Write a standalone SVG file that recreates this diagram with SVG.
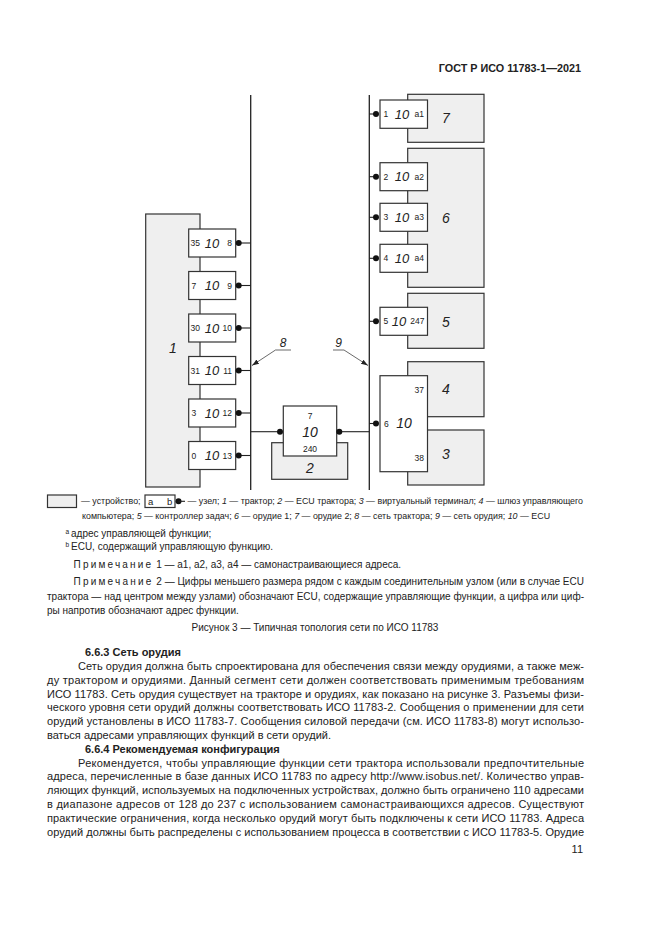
<svg xmlns="http://www.w3.org/2000/svg" width="661" height="935" viewBox="0 0 661 935">
<defs>
<style>
text{font-family:"Liberation Sans",Arial,sans-serif;fill:#222}
.dev{fill:#efefef;stroke:#333;stroke-width:1.2}
.ecu{fill:#fff;stroke:#333;stroke-width:1.2}
.bus{stroke:#222;stroke-width:1.3;fill:none}
.ln{stroke:#222;stroke-width:1.1;fill:none}
.dot{fill:#111}
.n{font-size:8.5px}
.big{font-size:13px;font-style:italic}
.lab{font-size:14px;font-style:italic}
.leg{font-size:8.9px}
.note{font-size:10px}
.body{font-size:11px}
.hd{font-size:11px;font-weight:bold}
.it{font-style:italic}
.sp{letter-spacing:2.2px}
</style>
<marker id="arr" viewBox="0 0 10 10" refX="10" refY="5" markerWidth="7" markerHeight="7" orient="auto" markerUnits="userSpaceOnUse">
<path d="M0,1.5 L10,5 L0,8.5 z" fill="#222"/>
</marker>
</defs>
<rect width="661" height="935" fill="#fff"/>

<text x="581" y="72" class="hd" text-anchor="end" style="font-size:10.8px">ГОСТ Р ИСО 11783-1—2021</text>

<!-- devices -->
<g id="dev1"><rect class="dev" x="145.7" y="214" width="54.3" height="273"/><text x="173" y="353" class="lab" text-anchor="middle">1</text></g>
<g id="dev7"><rect class="dev" x="407.7" y="94.3" width="76.3" height="48"/><text x="446" y="123" class="lab" text-anchor="middle">7</text></g>
<g id="dev6"><rect class="dev" x="407.7" y="148.3" width="76.3" height="139"/><text x="446" y="223" class="lab" text-anchor="middle">6</text></g>
<g id="dev5"><rect class="dev" x="407.7" y="293.3" width="76.3" height="55"/><text x="446" y="327" class="lab" text-anchor="middle">5</text></g>
<g id="dev4"><rect class="dev" x="407.7" y="361.7" width="76.3" height="55"/><text x="446" y="394" class="lab" text-anchor="middle">4</text></g>
<g id="dev3"><rect class="dev" x="407.7" y="430" width="76.3" height="55"/><text x="446" y="459" class="lab" text-anchor="middle">3</text></g>
<g id="dev2"><rect class="dev" x="271.7" y="442.7" width="76" height="36.6"/><text x="310" y="473" class="lab" text-anchor="middle">2</text></g>

<!-- connectors -->
<g id="connectors">
<line class="bus" x1="250.7" y1="95" x2="250.7" y2="490"/>
<line class="bus" x1="369.3" y1="95" x2="369.3" y2="490"/>
<line class="ln" x1="238.7" y1="243" x2="250.7" y2="243"/>
<line class="ln" x1="238.7" y1="285.5" x2="250.7" y2="285.5"/>
<line class="ln" x1="238.7" y1="328" x2="250.7" y2="328"/>
<line class="ln" x1="238.7" y1="370.5" x2="250.7" y2="370.5"/>
<line class="ln" x1="238.7" y1="413" x2="250.7" y2="413"/>
<line class="ln" x1="238.7" y1="455.5" x2="250.7" y2="455.5"/>
<line class="ln" x1="250.7" y1="431.7" x2="280" y2="431.7"/>
<line class="ln" x1="339.3" y1="431.7" x2="369.3" y2="431.7"/>
<line class="ln" x1="369.3" y1="114" x2="376" y2="114"/>
<line class="ln" x1="369.3" y1="176.7" x2="376" y2="176.7"/>
<line class="ln" x1="369.3" y1="217.3" x2="376" y2="217.3"/>
<line class="ln" x1="369.3" y1="258.3" x2="376" y2="258.3"/>
<line class="ln" x1="369.3" y1="321.3" x2="376" y2="321.3"/>
<line class="ln" x1="369.3" y1="423.5" x2="376" y2="423.5"/>
<g id="label8"><text x="283" y="347" class="big" text-anchor="middle" style="font-size:12px">8</text><line x1="275.5" y1="350" x2="291" y2="350" stroke="#444" stroke-width="0.8"/><line x1="275.5" y1="350" x2="252" y2="365.5" stroke="#444" stroke-width="0.8" marker-end="url(#arr)"/></g>
<g id="label9"><text x="338.5" y="347" class="big" text-anchor="middle" style="font-size:12px">9</text><line x1="333" y1="350" x2="344" y2="350" stroke="#444" stroke-width="0.8"/><line x1="344" y1="350" x2="368" y2="365.5" stroke="#444" stroke-width="0.8" marker-end="url(#arr)"/></g>
</g>

<!-- left ECUs -->
<g id="ecu-35"><rect class="ecu" x="188.7" y="229" width="47" height="28"/><text x="190.5" y="246" class="n">35</text><text x="212" y="247.5" class="big" text-anchor="middle">10</text><text x="232" y="246" class="n" text-anchor="end">8</text><circle class="dot" cx="238.7" cy="243" r="3"/></g>
<g id="ecu-7"><rect class="ecu" x="188.7" y="271.5" width="47" height="28"/><text x="191.5" y="288.5" class="n">7</text><text x="212" y="290" class="big" text-anchor="middle">10</text><text x="232" y="288.5" class="n" text-anchor="end">9</text><circle class="dot" cx="238.7" cy="285.5" r="3"/></g>
<g id="ecu-30"><rect class="ecu" x="188.7" y="314" width="47" height="28"/><text x="190.5" y="331" class="n">30</text><text x="212" y="332.5" class="big" text-anchor="middle">10</text><text x="232" y="331" class="n" text-anchor="end">10</text><circle class="dot" cx="238.7" cy="328" r="3"/></g>
<g id="ecu-31"><rect class="ecu" x="188.7" y="356.5" width="47" height="28"/><text x="190.5" y="373.5" class="n">31</text><text x="212" y="375" class="big" text-anchor="middle">10</text><text x="232" y="373.5" class="n" text-anchor="end">11</text><circle class="dot" cx="238.7" cy="370.5" r="3"/></g>
<g id="ecu-3"><rect class="ecu" x="188.7" y="399" width="47" height="28"/><text x="191.5" y="416" class="n">3</text><text x="212" y="417.5" class="big" text-anchor="middle">10</text><text x="232" y="416" class="n" text-anchor="end">12</text><circle class="dot" cx="238.7" cy="413" r="3"/></g>
<g id="ecu-0"><rect class="ecu" x="188.7" y="441.5" width="47" height="28"/><text x="191.5" y="458.5" class="n">0</text><text x="212" y="460" class="big" text-anchor="middle">10</text><text x="232" y="458.5" class="n" text-anchor="end">13</text><circle class="dot" cx="238.7" cy="455.5" r="3"/></g>

<!-- tractor ECU -->
<g id="ecu-tractor"><rect class="ecu" x="283.3" y="406" width="53.4" height="50"/><text x="310" y="418.5" class="n" text-anchor="middle">7</text><text x="310" y="436.5" class="big" text-anchor="middle" style="font-size:14px">10</text><text x="310" y="452" class="n" text-anchor="middle">240</text><circle class="dot" cx="280" cy="431.7" r="3"/><circle class="dot" cx="339.3" cy="431.7" r="3"/></g>

<!-- right ECUs -->
<g id="ecu-a1"><rect class="ecu" x="380" y="100" width="47.5" height="28.3"/><text x="383.5" y="117" class="n">1</text><text x="402" y="118.5" class="big" text-anchor="middle">10</text><text x="424" y="117" class="n" text-anchor="end">a1</text><circle class="dot" cx="376" cy="114" r="3"/></g>
<g id="ecu-a2"><rect class="ecu" x="380" y="162.7" width="47.5" height="28"/><text x="383.5" y="179.7" class="n">2</text><text x="402" y="181.2" class="big" text-anchor="middle">10</text><text x="424" y="179.7" class="n" text-anchor="end">a2</text><circle class="dot" cx="376" cy="176.7" r="3"/></g>
<g id="ecu-a3"><rect class="ecu" x="380" y="203.3" width="47.5" height="28"/><text x="383.5" y="220.3" class="n">3</text><text x="402" y="221.8" class="big" text-anchor="middle">10</text><text x="424" y="220.3" class="n" text-anchor="end">a3</text><circle class="dot" cx="376" cy="217.3" r="3"/></g>
<g id="ecu-a4"><rect class="ecu" x="380" y="244.3" width="47.5" height="28"/><text x="383.5" y="261.3" class="n">4</text><text x="402" y="262.8" class="big" text-anchor="middle">10</text><text x="424" y="261.3" class="n" text-anchor="end">a4</text><circle class="dot" cx="376" cy="258.3" r="3"/></g>
<g id="ecu-5"><rect class="ecu" x="380" y="307.3" width="47.5" height="28"/><text x="383.5" y="324.3" class="n">5</text><text x="399" y="325.8" class="big" text-anchor="middle">10</text><text x="424.5" y="324.3" class="n" text-anchor="end">247</text><circle class="dot" cx="376" cy="321.3" r="3"/></g>
<g id="ecu-6"><rect class="ecu" x="380" y="375.7" width="47.5" height="96"/><text x="424" y="393" class="n" text-anchor="end">37</text><text x="384" y="426.5" class="n">6</text><text x="404" y="428" class="big" text-anchor="middle" style="font-size:14px">10</text><text x="424" y="460.5" class="n" text-anchor="end">38</text><circle class="dot" cx="376" cy="423.5" r="3"/></g>

<!-- legend -->
<g id="legend">
<rect class="dev" x="47.5" y="495" width="29" height="12.5"/>
<text x="81" y="504" class="leg">— устройство;</text>
<rect class="ecu" x="145" y="495" width="30" height="12.5"/>
<text x="148" y="505" class="leg" style="font-size:9.5px">a</text>
<text x="167" y="505" class="leg" style="font-size:9.5px">b</text>
<circle class="dot" cx="178.5" cy="501.3" r="3"/>
<line class="ln" x1="178.5" y1="501.3" x2="185" y2="501.3"/>
<text x="187.5" y="504" class="leg" textLength="395.5" lengthAdjust="spacing">— узел; <tspan class="it">1</tspan> — трактор; <tspan class="it">2</tspan> — ECU трактора; <tspan class="it">3</tspan> — виртуальный терминал; <tspan class="it">4</tspan> — шлюз управляющего</text>
<text x="82" y="519" class="leg">компьютера; <tspan class="it">5</tspan> — контроллер задач; <tspan class="it">6</tspan> — орудие 1; <tspan class="it">7</tspan> — орудие 2; <tspan class="it">8</tspan> — сеть трактора; <tspan class="it">9</tspan> — сеть орудия; <tspan class="it">10</tspan> — ECU</text>
</g>

<!-- notes -->
<g id="notes">
<text x="65.5" y="533.5" class="note" style="font-size:6.5px">a</text>
<text x="71" y="537" class="note">адрес управляющей функции;</text>
<text x="65.5" y="546.5" class="note" style="font-size:6.5px">b</text>
<text x="71" y="550" class="note">ECU, содержащий управляющую функцию.</text>
<text x="73.5" y="568" class="note"><tspan class="sp">Примечание</tspan> 1 — а1, а2, а3, а4 — самонастраивающиеся адреса.</text>
<text x="73.5" y="585" class="note" textLength="510.5" lengthAdjust="spacing"><tspan class="sp">Примечание</tspan> 2 — Цифры меньшего размера рядом с каждым соединительным узлом (или в случае ECU</text>
<text x="47" y="600" class="note" textLength="537" lengthAdjust="spacing">трактора — над центром между узлами) обозначают ECU, содержащие управляющие функции, а цифра или циф-</text>
<text x="47" y="613.5" class="note">ры напротив обозначают адрес функции.</text>
<text x="315" y="630.5" class="note" text-anchor="middle">Рисунок 3 — Типичная топология сети по ИСО 11783</text>
</g>

<!-- body -->
<g id="body">
<text x="85" y="656" class="hd">6.6.3  Сеть орудия</text>
<text x="78" y="670" class="body" textLength="506" lengthAdjust="spacing">Сеть орудия должна быть спроектирована для обеспечения связи между орудиями, а также меж-</text>
<text x="47" y="683.8" class="body" textLength="537" lengthAdjust="spacing">ду трактором и орудиями. Данный сегмент сети должен соответствовать применимым требованиям</text>
<text x="47" y="697.6" class="body" textLength="537" lengthAdjust="spacing">ИСО 11783. Сеть орудия существует на тракторе и орудиях, как показано на рисунке 3. Разъемы физи-</text>
<text x="47" y="711.4" class="body" textLength="537" lengthAdjust="spacing">ческого уровня сети орудий должны соответствовать ИСО 11783-2. Сообщения о применении для сети</text>
<text x="47" y="725.2" class="body" textLength="537" lengthAdjust="spacing">орудий установлены в ИСО 11783-7. Сообщения силовой передачи (см. ИСО 11783-8) могут использо-</text>
<text x="47" y="739" class="body">ваться адресами управляющих функций в сети орудий.</text>
<text x="85" y="752.8" class="hd">6.6.4  Рекомендуемая конфигурация</text>
<text x="78" y="766.6" class="body" textLength="506" lengthAdjust="spacing">Рекомендуется, чтобы управляющие функции сети трактора использовали предпочтительные</text>
<text x="47" y="780.4" class="body" textLength="537" lengthAdjust="spacing">адреса, перечисленные в базе данных ИСО 11783 по адресу http://www.isobus.net/. Количество управ-</text>
<text x="47" y="794.2" class="body" textLength="537" lengthAdjust="spacing">ляющих функций, используемых на подключенных устройствах, должно быть ограничено 110 адресами</text>
<text x="47" y="808" class="body" textLength="537" lengthAdjust="spacing">в диапазоне адресов от 128 до 237 с использованием самонастраивающихся адресов. Существуют</text>
<text x="47" y="821.8" class="body" textLength="537" lengthAdjust="spacing">практические ограничения, когда несколько орудий могут быть подключены к сети ИСО 11783. Адреса</text>
<text x="47" y="835.6" class="body" textLength="537" lengthAdjust="spacing">орудий должны быть распределены с использованием процесса в соответствии с ИСО 11783-5. Орудие</text>
<text x="583" y="853" class="body" text-anchor="end">11</text>
</g>
</svg>
